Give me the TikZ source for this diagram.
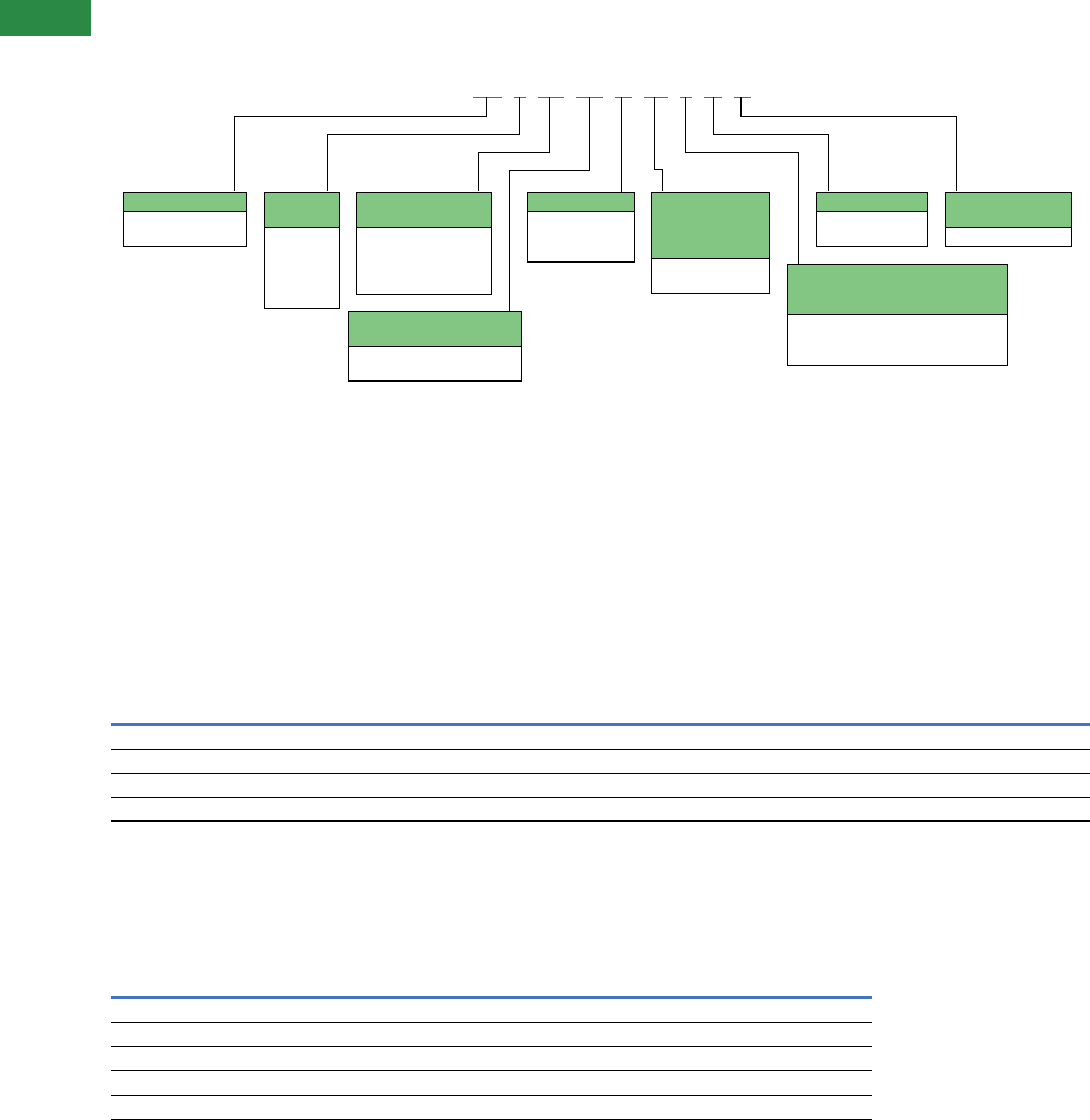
\documentclass[tikz,border=0pt]{standalone}
\definecolor{dkgreen}{RGB}{42,138,69}
\definecolor{hdgreen}{RGB}{131,197,131}
\definecolor{tblblue}{RGB}{68,114,196}
\tikzset{
  boxframe/.style={draw=black, line width=1.2pt, fill=white, inner sep=0pt, outer sep=0pt, anchor=north west},
  headerfill/.style={fill=hdgreen, draw=black, line width=1.2pt},
  conn/.style={draw=black, line width=1.1pt},
  tickseg/.style={draw=dkgreen, line width=1pt},
  blackrule/.style={draw=black, line width=1.1pt},
  bluerule/.style={draw=tblblue, line width=3.2pt},
}
\newcommand\headbox[6]{%
  \node[boxframe, minimum width=#4pt, minimum height=#5pt] (#1) at (#2,#3) {};
  \draw[headerfill] (#1.north west) rectangle ++(#4,#6);
  \draw[line width=1.2pt] (#1.north west) rectangle (#1.south east);
}
\begin{document}
\begin{tikzpicture}[x=1pt,y=-1pt]
\useasboundingbox (0,0) rectangle (1090,1120);
% corner tab
\fill[dkgreen] (0,0) rectangle (91,35.7);
% boxes
\headbox{b1}{123.3}{192.3}{123}{54}{19}
\headbox{b2}{264.3}{192.3}{75}{116}{35}
\headbox{b3}{356.3}{192.3}{135}{102}{35}
\headbox{b4}{348.3}{311.3}{173}{69.7}{35}
\headbox{b5}{527.3}{192.3}{107}{69.7}{19}
\headbox{b6}{651.3}{192.3}{118}{101}{66}
\headbox{b7}{787.3}{264.3}{220}{101}{50}
\headbox{b8}{816.3}{192.3}{111}{54}{19}
\headbox{b9}{945.3}{192.3}{126}{54}{35}
% ticks
\coordinate (s1) at (486.3,97.3);
\coordinate (s2) at (519.7,97.3);
\coordinate (s3) at (549.3,97.3);
\coordinate (s4) at (589.3,97.3);
\coordinate (s5) at (621.3,97.3);
\coordinate (s6) at (654.3,97.3);
\coordinate (s7) at (685.3,97.3);
\coordinate (s8) at (713.3,97.3);
\coordinate (s9) at (741,97.3);
\draw[tickseg] (473,97.3) -- (502,97.3);
\draw[tickseg] (514,97.3) -- (526,97.3);
\draw[tickseg] (538,97.3) -- (564,97.3);
\draw[tickseg] (576,97.3) -- (603,97.3);
\draw[tickseg] (615,97.3) -- (632,97.3);
\draw[tickseg] (644,97.3) -- (668,97.3);
\draw[tickseg] (680,97.3) -- (692,97.3);
\draw[tickseg] (704,97.3) -- (722,97.3);
\draw[tickseg] (734,97.3) -- (751,97.3);
% connectors
\draw[conn] (s1) -- ++(0,19) -| ([xshift=111pt,yshift=1.5pt]b1.north west);
\draw[conn] (s2) -- ++(0,37) -| ([xshift=63pt,yshift=1.5pt]b2.north west);
\draw[conn] (s3) -- ++(0,55) -| ([xshift=122pt,yshift=1.5pt]b3.north west);
\draw[conn] (s4) -- ++(0,73) -| ([xshift=161pt]b4.north west);
\draw[conn] (s5) -- ([xshift=94pt]b5.north west);
\draw[conn] (s6) -- ++(0,72) -| ([xshift=11pt,yshift=1.5pt]b6.north west);
\draw[conn] (s7) -- ++(0,55) -| ([xshift=11pt]b7.north west);
\draw[conn] (s8) -- ++(0,37) -| ([xshift=12pt,yshift=1.5pt]b8.north west);
\draw[conn] (s9) -- ++(0,19) -| ([xshift=11.4pt,yshift=1.5pt]b9.north west);
% table 1
\draw[bluerule] (111,724.3) -- (1090,724.3);
\foreach \yy in {749.3,773.3,797.3,821} \draw[blackrule] (111,\yy) -- (1090,\yy);
% table 2
\draw[bluerule] (111,997.7) -- (872,997.7);
\foreach \yy in {1022.3,1046.3,1070.3,1095.3,1119.3} \draw[blackrule] (111,\yy) -- (872,\yy);
\end{tikzpicture}
\end{document}
